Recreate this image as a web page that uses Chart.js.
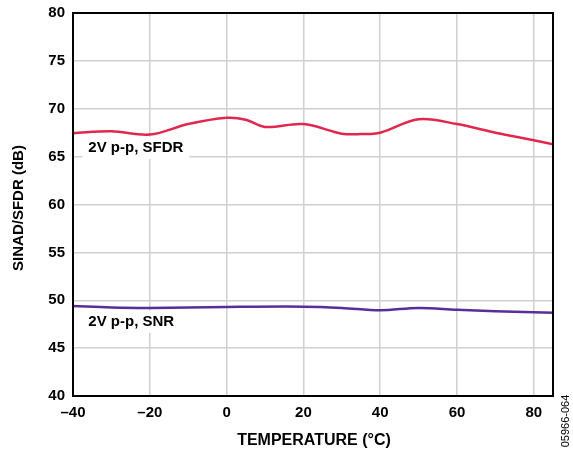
<!DOCTYPE html>
<html>
<head>
<meta charset="utf-8">
<script src="https://cdn.jsdelivr.net/npm/chart.js@4"></script>
<style>
  html, body { margin: 0; padding: 0; background: #fff; }
  #wrap { width: 573px; height: 454px; }
</style>
</head>
<body>
<div id="wrap"><canvas id="chart" width="573" height="454"></canvas></div>
<script>
// temperature (°C)
const sfdrTemps = [-40, -30, -20, -10, 0, 5, 10, 20, 30, 35, 40, 50, 60, 70, 75, 85];
const sfdrValues = [67.45, 67.65, 67.3, 68.4, 69.05, 68.85, 68.1, 68.4, 67.4, 67.35, 67.5, 68.9, 68.4, 67.5, 67.1, 66.3];
const snrTemps = [-40, -30, -20, 0, 20, 30, 40, 50, 60, 70, 85];
const snrValues = [49.4, 49.25, 49.2, 49.3, 49.33, 49.2, 48.95, 49.2, 49.0, 48.85, 48.7];
const xTicks = [-40, -20, 0, 20, 40, 60, 80];
const yTicks = [40, 45, 50, 55, 60, 65, 70, 75, 80];

const tickFont = { family: 'Liberation Sans', size: 15, weight: 'bold' };

const toPoints = (xs, ys) => xs.map((x, i) => ({ x: x, y: ys[i] }));

const overlay = {
    id: 'overlay',
    afterDraw(chart) {
        const ctx = chart.ctx;
        const a = chart.chartArea;
        const xs = chart.scales.x;
        const ys = chart.scales.y;
        ctx.save();
        // frame
        ctx.strokeStyle = '#000';
        ctx.lineWidth = 2;
        ctx.strokeRect(a.left, a.top, a.right - a.left, a.bottom - a.top);
        // series labels
        ctx.font = 'bold 15px "Liberation Sans"';
        ctx.textBaseline = 'middle';
        ctx.textAlign = 'left';
        const labels = [['2V p-p, SFDR', -36, 65.9], ['2V p-p, SNR', -36, 47.75]];
        labels.forEach(([t, xv, yv]) => {
            const px = xs.getPixelForValue(xv);
            const py = ys.getPixelForValue(yv);
            const w = ctx.measureText(t).width;
            ctx.fillStyle = '#fff';
            ctx.fillRect(px - 6, py - 11, w + 12, 22);
            ctx.fillStyle = '#000';
            ctx.fillText(t, px, py);
        });
        // axis titles
        ctx.textAlign = 'center';
        ctx.font = 'bold 16px "Liberation Sans"';
        ctx.fillText('TEMPERATURE (°C)', (a.left + a.right) / 2 + 1, 441);
        ctx.save();
        ctx.translate(19, 208);
        ctx.rotate(-Math.PI / 2);
        ctx.font = 'bold 15px "Liberation Sans"';
        ctx.fillText('SINAD/SFDR (dB)', 0, 0);
        ctx.restore();
        // figure code
        ctx.font = '11px "Liberation Sans"';
        ctx.translate(566, 421);
        ctx.rotate(-Math.PI / 2);
        ctx.fillText('05966-064', 0, 0);
        ctx.restore();
    }
};

new Chart(document.getElementById('chart'), {
    type: 'line',
    data: {
        datasets: [{
            label: 'SFDR',
            data: toPoints(sfdrTemps, sfdrValues),
            borderColor: '#e0284f',
            borderWidth: 2.5,
            pointRadius: 0,
            tension: 0.35,
            fill: false,
        }, {
            label: 'SNR',
            data: toPoints(snrTemps, snrValues),
            borderColor: '#5a2d9c',
            borderWidth: 2.5,
            pointRadius: 0,
            tension: 0.35,
            fill: false,
        }],
    },
    options: {
        responsive: false,
        animation: false,
        layout: { padding: { left: 0, right: 20, top: 13, bottom: 0 } },
        plugins: {
            legend: { display: false },
            tooltip: { enabled: false },
        },
        scales: {
            x: {
                type: 'linear',
                min: -40,
                max: 85,
                afterBuildTicks: (s) => { s.ticks = xTicks.map(v => ({ value: v })); },
                afterFit: (s) => { s.height = 58; s.paddingLeft = 0; s.paddingRight = 0; },
                grid: { color: '#d0d0d0', lineWidth: 1.5, drawTicks: false },
                border: { display: false },
                ticks: {
                    color: '#000',
                    font: tickFont,
                    padding: 8,
                    maxRotation: 0,
                    callback: (v) => v < 0 ? '\u2013' + Math.abs(v) : String(v),
                },
            },
            y: {
                min: 40,
                max: 80,
                afterBuildTicks: (s) => { s.ticks = yTicks.map(v => ({ value: v })); },
                afterFit: (s) => { s.width = 73; s.paddingTop = 0; s.paddingBottom = 0; },
                grid: { color: '#d0d0d0', lineWidth: 1.5, drawTicks: false },
                border: { display: false },
                ticks: {
                    color: '#000',
                    font: tickFont,
                    padding: 8,
                },
            },
        },
    },
    plugins: [overlay],
});
</script>
</body>
</html>
